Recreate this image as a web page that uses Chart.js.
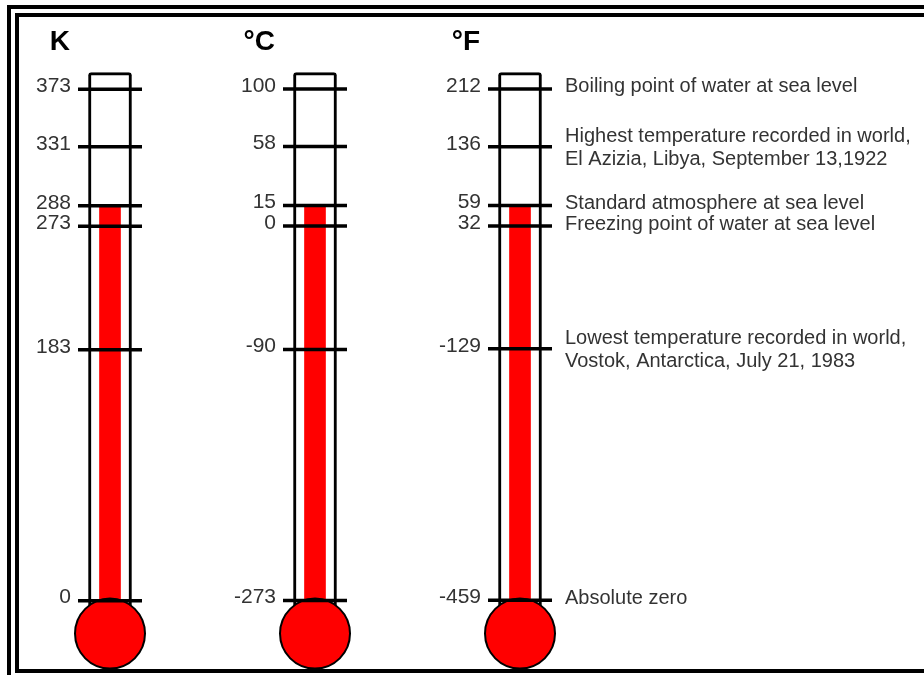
<!DOCTYPE html>
<html>
<head>
<meta charset="utf-8">
<script src="https://cdn.jsdelivr.net/npm/chart.js@4/dist/chart.umd.min.js"></script>
<style>
  html, body { margin: 0; padding: 0; background: #fff; overflow: hidden; }
  #wrap { position: relative; width: 924px; height: 675px; }
  .frame { position: absolute; border: 4px solid #000; box-sizing: border-box; }
  #outer { left: 7px; top: 5px; width: 2000px; height: 2000px; }
  #inner { left: 15px; top: 13px; width: 2000px; height: 660px; }
  canvas { position: absolute; left: 0; top: 0; }
</style>
</head>
<body>
<div id="wrap">
  <div class="frame" id="outer"></div>
  <div class="frame" id="inner"></div>
  <canvas id="thermoChart" width="924" height="675"></canvas>
</div>
<script>
// Scale names and the marked temperatures on each thermometer
const scaleTitles = ['K', '°C', '°F'];
const kelvinTicks = [373, 331, 288, 273, 183, 0];
const celsiusTicks = [100, 58, 15, 0, -90, -273];
const fahrenheitTicks = [212, 136, 59, 32, -129, -459];
const descriptions = [
    ['Boiling point of water at sea level'],
    ['Highest temperature recorded in world,', 'El Azizia, Libya, September 13,1922'],
    ['Standard atmosphere at sea level'],
    ['Freezing point of water at sea level'],
    ['Lowest temperature recorded in world,', 'Vostok, Antarctica, July 21, 1983'],
    ['Absolute zero']
];
// Level of the red column (kelvin)
const mercuryK = 288;

// Drawing constants (kelvin units)
const tubeTopK = 385;
const tubeBottomK = -20;
const bulbK = -24;

// Vertical range shared by all three scales (kelvin)
const kMin = -54.2, kMax = 438.0;
const kToC = k => k - 273.15;
const kToF = k => (k - 273.15) * 1.8 + 32;

const positions = scaleTitles.map((t, i) => i);

const labelFont = '21px "Liberation Sans", Arial, sans-serif';
const textFont = '20px "Liberation Sans", Arial, sans-serif';
const titleFont = 'bold 28px "Liberation Sans", Arial, sans-serif';

function tickSet(values, idx, axis) {
    return {
        type: 'scatter',
        yAxisID: axis,
        data: values.map(v => ({x: idx, y: v})),
        pointStyle: 'line',
        pointRadius: 32,
        borderWidth: 3.5,
        borderColor: '#000',
        order: 1
    };
}

// Text: titles, tick numbers, descriptions
const textPlugin = {
    id: 'thermoText',
    afterDatasetsDraw(chart) {
        const ctx = chart.ctx;
        const x = chart.scales.x, yK = chart.scales.yK;
        ctx.save();
        // titles
        ctx.font = titleFont;
        ctx.fillStyle = '#000';
        ctx.textAlign = 'right';
        ctx.textBaseline = 'middle';
        scaleTitles.forEach((t, i) => {
            ctx.fillText(t, x.getPixelForValue(i) - 40, yK.getPixelForValue(tubeTopK) - 30);
        });
        // tick numbers
        const lists = [kelvinTicks, celsiusTicks, fahrenheitTicks];
        ctx.font = labelFont;
        ctx.fillStyle = '#333';
        lists.forEach((vals, i) => {
            const meta = chart.getDatasetMeta(3 + i);
            meta.data.forEach((pt, j) => {
                ctx.fillText(String(vals[j]), pt.x - 39, pt.y - 3);
            });
        });
        // descriptions next to the Fahrenheit scale
        ctx.font = textFont;
        ctx.textAlign = 'left';
        const fMeta = chart.getDatasetMeta(5);
        fMeta.data.forEach((pt, j) => {
            const lines = descriptions[j];
            if (lines.length === 1) {
                ctx.fillText(lines[0], pt.x + 45, pt.y - 2);
            } else {
                lines.forEach((ln, k) => ctx.fillText(ln, pt.x + 45, pt.y - 10 + k * 23));
            }
        });
        ctx.restore();
    }
};

const ctxThermo = document.getElementById('thermoChart').getContext('2d');
new Chart(ctxThermo, {
    type: 'bar',
    data: {
        datasets: [
            {
                // glass tube
                type: 'bar',
                yAxisID: 'yK',
                data: positions.map(i => ({x: i, y: [tubeBottomK, tubeTopK]})),
                backgroundColor: '#fff',
                borderColor: '#000',
                borderWidth: 3,
                borderRadius: 3,
                barThickness: 43,
                grouped: false,
                order: 4
            },
            {
                // red column
                type: 'bar',
                yAxisID: 'yK',
                data: positions.map(i => ({x: i, y: [tubeBottomK, mercuryK]})),
                backgroundColor: '#ff0000',
                borderWidth: 0,
                barThickness: 21,
                grouped: false,
                order: 3
            },
            {
                // bulb
                type: 'scatter',
                yAxisID: 'yK',
                data: positions.map(i => ({x: i, y: bulbK})),
                pointStyle: 'circle',
                pointRadius: 35,
                backgroundColor: '#ff0000',
                borderColor: '#000',
                borderWidth: 2,
                order: 2
            },
            tickSet(kelvinTicks, 0, 'yK'),
            tickSet(celsiusTicks, 1, 'yC'),
            tickSet(fahrenheitTicks, 2, 'yF')
        ]
    },
    options: {
        responsive: false,
        animation: false,
        events: [],
        layout: { padding: 0, autoPadding: false },
        plugins: { legend: { display: false }, tooltip: { enabled: false } },
        scales: {
            x: { type: 'linear', display: false, offset: false, min: -110 / 205, max: 814 / 205 },
            yK: { type: 'linear', display: false, min: kMin, max: kMax },
            yC: { type: 'linear', display: false, min: kToC(kMin), max: kToC(kMax) },
            yF: { type: 'linear', display: false, min: kToF(kMin), max: kToF(kMax) }
        }
    },
    plugins: [textPlugin]
});
</script>
</body>
</html>
